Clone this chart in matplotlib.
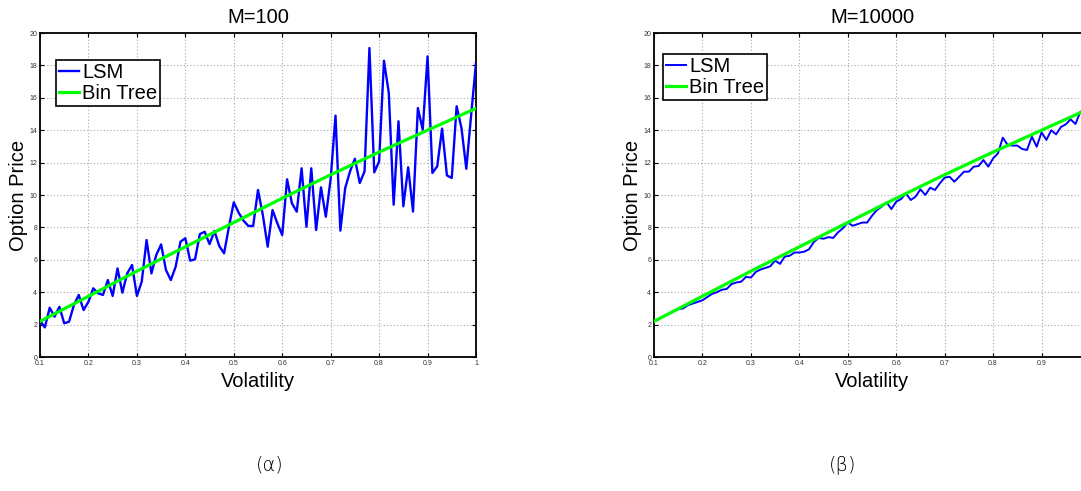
import matplotlib
matplotlib.use("Agg")
import matplotlib.pyplot as plt
import numpy as np

# volatility grid (0.10 .. 1.00 step 0.01)
vol = [round(0.10 + 0.01 * i, 2) for i in range(91)]

# LSM prices, M=100
lsm_100 = [2.24, 1.83, 3.04, 2.49, 3.10, 2.08, 2.18, 3.21, 3.83, 2.90,
           3.41, 4.24, 3.93, 3.83, 4.75, 3.77, 5.47, 3.97, 5.16, 5.68,
           3.77, 4.65, 7.22, 5.16, 6.30, 6.95, 5.37, 4.75, 5.57, 7.12,
           7.33, 5.95, 6.03, 7.59, 7.73, 6.97, 7.78, 6.85, 6.40, 8.04,
           9.55, 8.91, 8.42, 8.09, 8.09, 10.31, 8.76, 6.81, 9.07, 8.25,
           7.53, 10.97, 9.49, 8.97, 11.65, 8.04, 11.65, 7.84, 10.47, 8.66,
           11.00, 14.90, 7.80, 10.43, 11.46, 12.24, 10.74, 11.46, 19.07, 11.40,
           12.07, 18.29, 16.30, 9.40, 14.55, 9.30, 11.71, 8.98, 15.37, 14.03,
           18.56, 11.36, 11.77, 14.10, 11.21, 11.05, 15.48, 14.14, 11.62, 14.95,
           18.15]

# LSM prices, M=10000
lsm_10000 = [2.20, 2.35, 2.50, 2.65, 2.80, 2.95, 3.00, 3.20, 3.30, 3.40,
             3.50, 3.70, 3.90, 4.00, 4.15, 4.20, 4.50, 4.60, 4.65, 4.95,
             4.90, 5.25, 5.40, 5.50, 5.60, 5.95, 5.75, 6.20, 6.25, 6.45,
             6.45, 6.50, 6.65, 7.10, 7.35, 7.30, 7.40, 7.35, 7.70, 7.95,
             8.30, 8.10, 8.20, 8.30, 8.30, 8.72, 9.07, 9.28, 9.55, 9.13,
             9.59, 9.75, 10.10, 9.69, 9.90, 10.35, 10.00, 10.45, 10.31, 10.72,
             11.07, 11.13, 10.82, 11.13, 11.44, 11.44, 11.75, 11.79, 12.16, 11.75,
             12.26, 12.57, 13.54, 13.09, 13.05, 13.05, 12.84, 12.78, 13.60, 12.98,
             13.87, 13.40, 14.00, 13.74, 14.20, 14.36, 14.67, 14.38, 15.14, 15.20,
             15.30]

# binomial tree reference prices
vol_tree = [0.1, 0.2, 0.3, 0.4, 0.5, 0.6, 0.7, 0.8, 0.9, 1.0]
bin_tree = [2.2, 3.75, 5.3, 6.8, 8.3, 9.8, 11.25, 12.65, 14.0, 15.35]

titles = ["M=100", "M=10000"]
captions = ["(\u03b1)", "(\u03b2)"]
x_ticks = [0.1, 0.2, 0.3, 0.4, 0.5, 0.6, 0.7, 0.8, 0.9, 1.0]
x_tick_labels = ["0.1", "0.2", "0.3", "0.4", "0.5", "0.6", "0.7", "0.8", "0.9", "1"]
y_ticks = [0, 2, 4, 6, 8, 10, 12, 14, 16, 18, 20]

W, H = 1081, 491
FS = 14.5
fig = plt.figure(figsize=(W / 100, H / 100), dpi=100)
plt.rcParams["font.family"] = ["Liberation Sans", "DejaVu Sans"]


def px_axes(left, top, width, height):
    return fig.add_axes([left / W, (H - top - height) / H, width / W, height / H])


ax1 = px_axes(40, 33, 436, 324)
ax2 = px_axes(654, 33, 436, 324)

setups = [
    (ax1, lsm_100, 1.7, (16 / 436, 1 - 27 / 324)),
    (ax2, lsm_10000, 1.4, (9 / 436, 1 - 21 / 324)),
]

for i, ((ax, lsm, lw, anchor), title) in enumerate(zip(setups, titles)):
    ax.plot(vol, lsm, color="#0000ff", lw=lw, label="LSM", zorder=3)
    ax.plot(vol_tree, bin_tree, color="#00ff00", lw=2.3, label="Bin Tree", zorder=4)
    ax.set_xlim(0.1, 1.0)
    ax.set_ylim(0, 20)
    ax.set_xticks(x_ticks)
    # the right panel is cut at the page edge, its last label is not visible
    labels = x_tick_labels if i == 0 else x_tick_labels[:-1] + [""]
    ax.set_xticklabels(labels)
    ax.set_yticks(y_ticks)
    ax.grid(True, color="#a8a8a8", linestyle=(0, (1, 2)), linewidth=0.8)
    ax.tick_params(direction="in", length=3, width=0.8, labelsize=5,
                   top=True, right=True, pad=2, labelcolor="#333333")
    for s in ax.spines.values():
        s.set_linewidth(1.3)
        s.set_color("black")
    ax.set_title(title, fontsize=FS, pad=7)
    ax.set_xlabel("Volatility", fontsize=FS, labelpad=4)
    ax.set_ylabel("Option Price", fontsize=FS, labelpad=1)
    leg = ax.legend(loc="upper left", bbox_to_anchor=anchor, borderaxespad=0,
                    fontsize=FS, fancybox=False, framealpha=1, edgecolor="black",
                    handlelength=1.0, handletextpad=0.15, borderpad=0.15,
                    labelspacing=0.1)
    leg.get_frame().set_linewidth(1.2)

fig.text(270 / W, 1 - 465 / H, captions[0], ha="center", va="center", fontsize=14,
         family="DejaVu Sans", fontweight="light")
fig.text(843 / W, 1 - 465 / H, captions[1], ha="center", va="center", fontsize=14,
         family="DejaVu Sans", fontweight="light")

fig.savefig("out.png", dpi=100)
